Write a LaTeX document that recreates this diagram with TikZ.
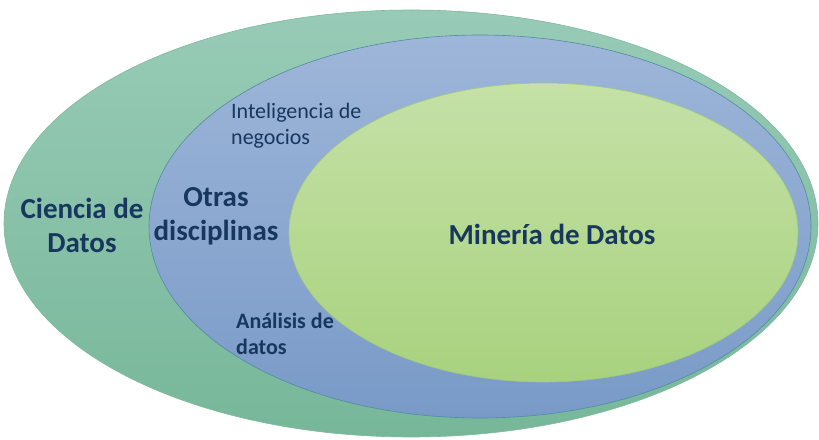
\documentclass[tikz,border=0pt]{standalone}
\usepackage{fontspec}
\newfontfamily\carlito{Carlito}
\usetikzlibrary{shapes.geometric}

\definecolor{txtblue}{HTML}{17375E}
\definecolor{cienciatop}{HTML}{98CBB7}
\definecolor{cienciabot}{HTML}{77B799}
\definecolor{ciencialine}{HTML}{7DB9A0}
\definecolor{otrastop}{HTML}{9EB6D9}
\definecolor{otrasbot}{HTML}{799AC7}
\definecolor{otrasline}{HTML}{4E8DA3}
\definecolor{mineriatop}{HTML}{C5E1A7}
\definecolor{mineriabot}{HTML}{A8D27E}
\definecolor{mineriline}{HTML}{A0C882}

\begin{document}
\begin{tikzpicture}[x=1pt,y=1pt,
  set node/.style={ellipse,inner sep=0pt,line width=0.6pt},
  big label/.style={text=txtblue,inner sep=0pt,align=center,
    font=\carlito\bfseries\fontsize{29}{34}\selectfont},
  small label/.style={text=txtblue,inner sep=0pt,align=left,anchor=west,
    font=\carlito\fontsize{22}{26}\selectfont}]

  \useasboundingbox[fill=white] (0,0) rectangle (819,439);

  \node[set node,minimum width=814pt,minimum height=427pt,
    top color=cienciatop,bottom color=cienciabot,draw=ciencialine] (ciencia) at (411,215.5) {};
  \node[set node,minimum width=662pt,minimum height=383pt,
    top color=otrastop,bottom color=otrasbot,draw=otrasline] (otras) at (480,212.5) {};
  \node[set node,minimum width=509pt,minimum height=299pt,
    top color=mineriatop,bottom color=mineriabot,draw=mineriline] (mineria) at (543.5,206.5) {};

  \node[big label] (ciencia label) at (82,214) {Ciencia de\\Datos};
  \node[big label] (otras label) at (216,222.5) {Otras\\disciplinas};
  \node[big label] (mineria label) at (552,205) {Minería de Datos};

  \node[small label] (negocios) at (231,313) {Inteligencia de\\negocios};
  \node[small label,font=\carlito\bfseries\fontsize{22}{26}\selectfont]
    (analisis) at (236,105.6) {Análisis de\\datos};
\end{tikzpicture}
\end{document}
